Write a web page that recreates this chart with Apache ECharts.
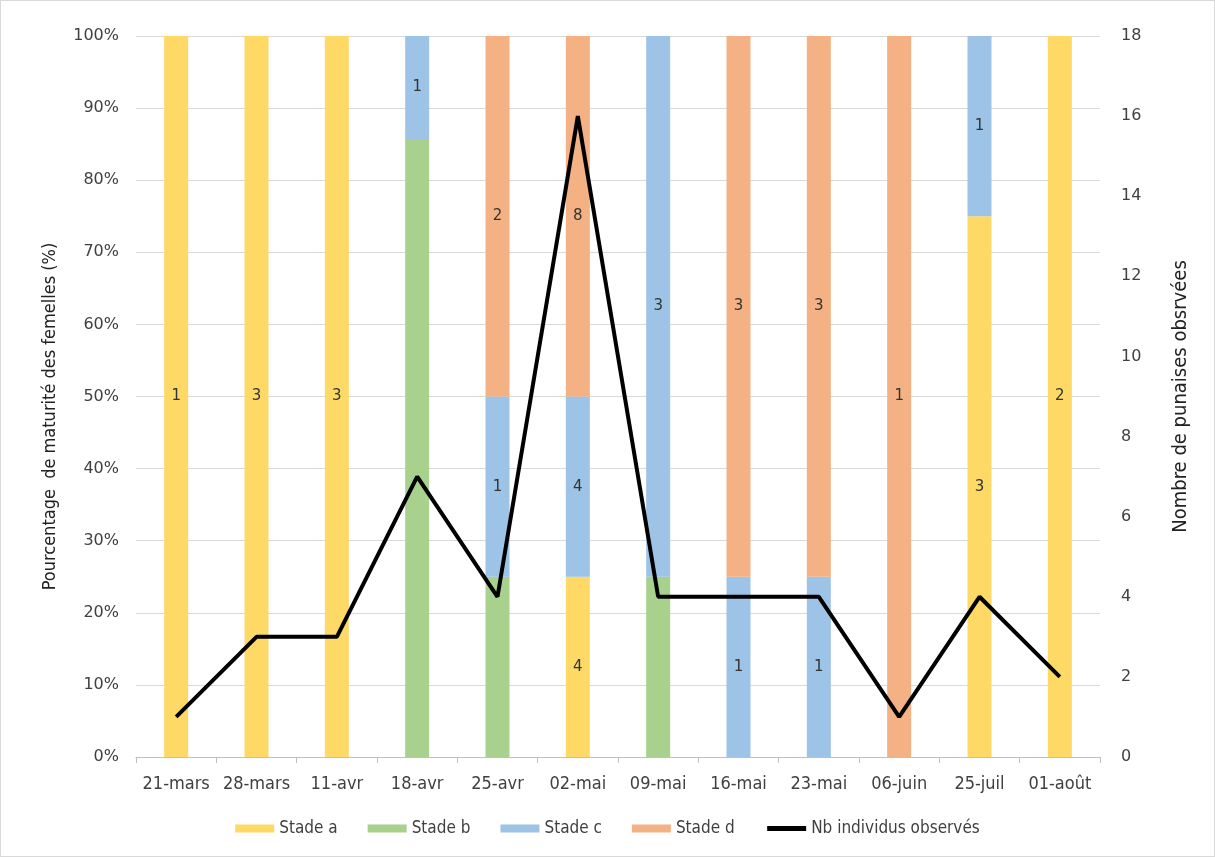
<!DOCTYPE html>
<html>
<head>
<meta charset="utf-8">
<script src="https://cdn.jsdelivr.net/npm/echarts@6/dist/echarts.min.js"></script>
<style>
  html, body { margin: 0; padding: 0; background: #fff; }
  #chart { width: 1213px; height: 855px; border: 1px solid #d9d9d9; }
</style>
</head>
<body>
<div id="chart"></div>
<script>
const dates = ['21-mars', '28-mars', '11-avr', '18-avr', '25-avr', '02-mai', '09-mai', '16-mai', '23-mai', '06-juin', '25-juil', '01-août']

// pourcentages par stade
const stadeA = [100, 100, 100, 0, 0, 25, 0, 0, 0, 0, 75, 100]
const stadeB = [0, 0, 0, 85.7, 25, 0, 25, 0, 0, 0, 0, 0]
const stadeC = [0, 0, 0, 14.3, 25, 25, 75, 25, 25, 0, 25, 0]
const stadeD = [0, 0, 0, 0, 50, 50, 0, 75, 75, 100, 0, 0]

// effectifs affichés sur les barres
const nbA = [1, 3, 3, '', '', 4, '', '', '', '', 3, 2]
const nbC = ['', '', '', 1, 1, 4, 3, 1, 1, '', 1, '']
const nbD = ['', '', '', '', 2, 8, '', 3, 3, 1, '', '']

const nbIndividus = [1, 3, 3, 7, 4, 16, 4, 4, 4, 1, 4, 2]

const font = '"Liberation Sans Narrow", "DejaVu Sans Condensed", sans-serif'
const numFont = '"DejaVu Sans", sans-serif'

function barLabel(counts) {
  return {
    show: true,
    position: 'inside',
    color: '#333',
    fontSize: 15,
    fontFamily: numFont,
    formatter: p => counts[p.dataIndex] === '' ? '' : String(counts[p.dataIndex])
  }
}

const chart = echarts.init(document.getElementById('chart'))
chart.setOption({
  animation: false,
  textStyle: { fontFamily: font },
  grid: { left: 135, right: 114, top: 35, bottom: 99 },
  legend: {
    bottom: 14,
    left: 'center',
    itemWidth: 39,
    itemHeight: 8,
    itemGap: 30,
    textStyle: { fontSize: 17, color: '#404040', fontFamily: font },
    data: [
      { name: 'Stade a', icon: 'rect' },
      { name: 'Stade b', icon: 'rect' },
      { name: 'Stade c', icon: 'rect' },
      { name: 'Stade d', icon: 'rect' },
      { name: 'Nb individus observés', itemStyle: { opacity: 0 }, lineStyle: { width: 5, color: '#000' } }
    ]
  },
  xAxis: {
    type: 'category',
    data: dates,
    axisLine: { lineStyle: { color: '#bfbfbf' } },
    axisTick: { show: true, length: 6, lineStyle: { color: '#bfbfbf' } },
    axisLabel: { fontSize: 18, color: '#404040', margin: 18, fontFamily: font, interval: 0 }
  },
  yAxis: [
    {
      type: 'value',
      min: 0,
      max: 100,
      interval: 10,
      name: 'Pourcentage  de maturité des femelles (%)',
      nameLocation: 'middle',
      nameGap: 77,
      nameTextStyle: { fontSize: 18, color: '#222', fontFamily: font, padding: [0, 40, 0, 0] },
      axisLabel: { formatter: '{value}%', fontSize: 16, color: '#404040', fontFamily: numFont, margin: 17 },
      axisLine: { show: false },
      splitLine: { lineStyle: { color: '#d9d9d9' } }
    },
    {
      type: 'value',
      min: 0,
      max: 18,
      interval: 2,
      name: 'Nombre de punaises obsrvées',
      nameLocation: 'middle',
      nameGap: 71,
      nameTextStyle: { fontSize: 20, color: '#222', fontFamily: font },
      axisLabel: { fontSize: 16, color: '#404040', fontFamily: numFont, margin: 21 },
      axisLine: { show: false },
      splitLine: { show: false }
    }
  ],
  series: [
    { name: 'Stade a', type: 'bar', stack: 'pct', barWidth: 24, data: stadeA, itemStyle: { color: '#FFD966' }, label: barLabel(nbA) },
    { name: 'Stade b', type: 'bar', stack: 'pct', barWidth: 24, data: stadeB, itemStyle: { color: '#A9D18E' } },
    { name: 'Stade c', type: 'bar', stack: 'pct', barWidth: 24, data: stadeC, itemStyle: { color: '#9DC3E6' }, label: barLabel(nbC) },
    { name: 'Stade d', type: 'bar', stack: 'pct', barWidth: 24, data: stadeD, itemStyle: { color: '#F4B183' }, label: barLabel(nbD) },
    {
      name: 'Nb individus observés',
      type: 'line',
      yAxisIndex: 1,
      data: nbIndividus,
      symbol: 'none',
      z: 5,
      itemStyle: { color: '#000' },
      lineStyle: { color: '#000', width: 4 }
    }
  ]
})
</script>
</body>
</html>
